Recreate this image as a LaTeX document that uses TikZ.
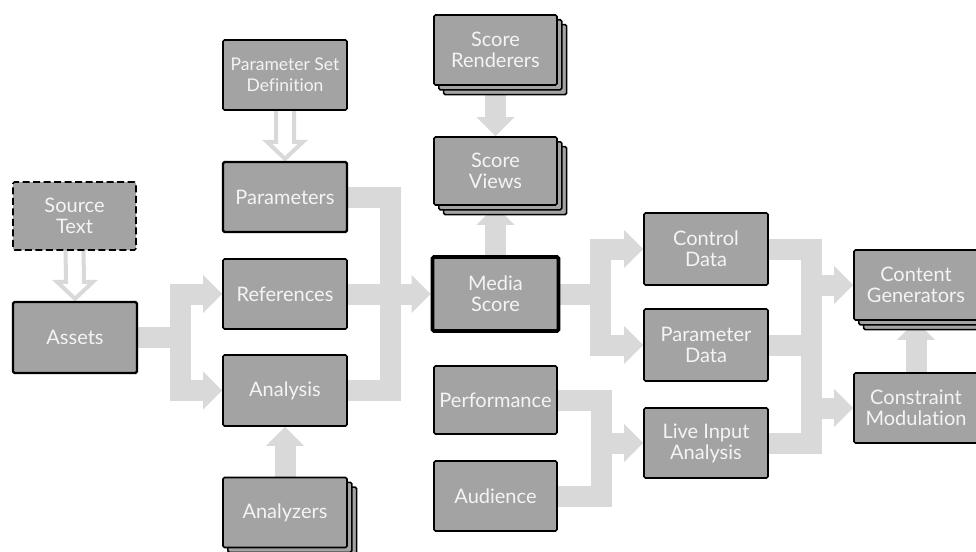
\documentclass[tikz,border=0pt]{standalone}
\usepackage{fontspec}
\setmainfont{Lato}[Ligatures=NoCommon]
\usetikzlibrary{arrows.meta,calc,shadows}
\definecolor{boxgray}{HTML}{A3A3A3}
\definecolor{lanegray}{HTML}{D9D9D9}
\definecolor{txt}{HTML}{F4F4F4}
\pgfdeclarelayer{bg}
\pgfsetlayers{bg,main}
\tikzset{
 box/.style={rectangle, draw=black, fill=boxgray, line width=1.6pt, rounded corners=1.5pt,
   minimum width=124pt, minimum height=70pt, inner sep=0pt, text=txt, align=center,
   font=\fontsize{20}{21}\selectfont},
 thickbox/.style={box, line width=2.4pt},
 heavybox/.style={box, line width=3.6pt},
 stack/.style={box, double copy shadow={shadow xshift=4.8pt, shadow yshift=-4.8pt}},
 dashbox/.style={box, dash pattern=on 7pt off 3.5pt},
 lane/.style={draw=lanegray, line width=21pt, line join=miter},
 fat/.style={lane, -{Triangle[width=38pt,length=19pt,line width=0pt]}},
 hollow/.style={draw=lanegray, fill=white, line width=4pt, line join=miter},
}
\begin{document}
\begin{tikzpicture}[x=1pt,y=-1pt]
\useasboundingbox (0,0) rectangle (976,551);
% nodes
\node[dashbox, minimum width=123pt, minimum height=68pt] (src) at (74.5,216) {Source\\Text};
\node[thickbox, minimum height=71pt] (assets) at (75,337.5) {Assets};
\node[box, font=\fontsize{17.5}{21}\selectfont] (psd) at (285,75) {Parameter Set\\Definition};
\node[thickbox] (params) at (285,197) {Parameters};
\node[box] (refs) at (285,294) {References};
\node[box, minimum height=71pt] (ana) at (285,390.5) {Analysis};
\node[stack] (anz) at (285,512.5) {Analyzers};
\node[stack, minimum width=123pt] (rend) at (495.5,50) {Score\\Renderers};
\node[stack, minimum width=123pt, minimum height=68pt] (views) at (495.5,171) {Score\\Views};
\node[heavybox, minimum width=126pt, minimum height=74pt] (media) at (495.5,294) {Media\\Score};
\node[box, minimum width=123pt, minimum height=68pt] (perf) at (495.5,400) {Performance};
\node[box, minimum width=123pt] (aud) at (495.5,496) {Audience};
\node[box, minimum height=72pt] (ctrl) at (706,249) {Control\\Data};
\node[box, minimum height=72pt] (pdat) at (706,345) {Parameter\\Data};
\node[box] (live) at (706,443) {Live Input\\Analysis};
\node[stack] (cont) at (916,285) {Content\\Generators};
\node[box] (cons) at (916,408) {Constraint\\Modulation};
% junctions
\coordinate (ja) at (180,337.5);
\coordinate (jb) at (390,294);
\coordinate (jc) at (600,294);
\coordinate (jd) at (601,443);
\coordinate (je) at (811,345);
\begin{pgfonlayer}{bg}
\filldraw[hollow] ($(src.south)+(-9,-2)$) -- ($(assets.north)+(-9,-19)$) -- ($(assets.north)+(-18,-19)$)
  -- ($(assets.north)+(0,-2)$) -- ($(assets.north)+(18,-19)$) -- ($(assets.north)+(9,-19)$) -- ($(src.south)+(9,-2)$);
\filldraw[hollow] ($(psd.south)+(-9,-2)$) -- ($(params.north)+(-9,-19)$) -- ($(params.north)+(-18,-19)$)
  -- ($(params.north)+(0,-2)$) -- ($(params.north)+(18,-19)$) -- ($(params.north)+(9,-19)$) -- ($(psd.south)+(9,-2)$);
\draw[fat] (assets.east) -- (ja) |- (refs.west);
\draw[fat] (assets.east) -- (ja) |- (ana.west);
\draw[fat] (anz.north) -- (ana.south);
\draw[lane] (params.east) -| (jb);
\draw[lane] (ana.east) -| (jb);
\draw[fat] (refs.east) -- (media.west);
\draw[fat] (rend.south) -- (views.north);
\draw[fat] (media.north) -- (views.south);
\draw[fat] (media.east) -- (jc) |- (ctrl.west);
\draw[fat] (media.east) -- (jc) |- (pdat.west);
\draw[lane] (perf.east) -| (jd);
\draw[lane] (aud.east) -| (jd);
\draw[fat] (jd) -- (live.west);
\draw[lane] (ctrl.east) -| (je) |- (live.east);
\draw[lane] (pdat.east) -- (je);
\draw[fat] (je |- cont.west) -- (cont.west);
\draw[fat] (je |- cons.west) -- (cons.west);
\draw[fat] (cons.north) -- (cont.south);
\end{pgfonlayer}
\end{tikzpicture}
\end{document}
